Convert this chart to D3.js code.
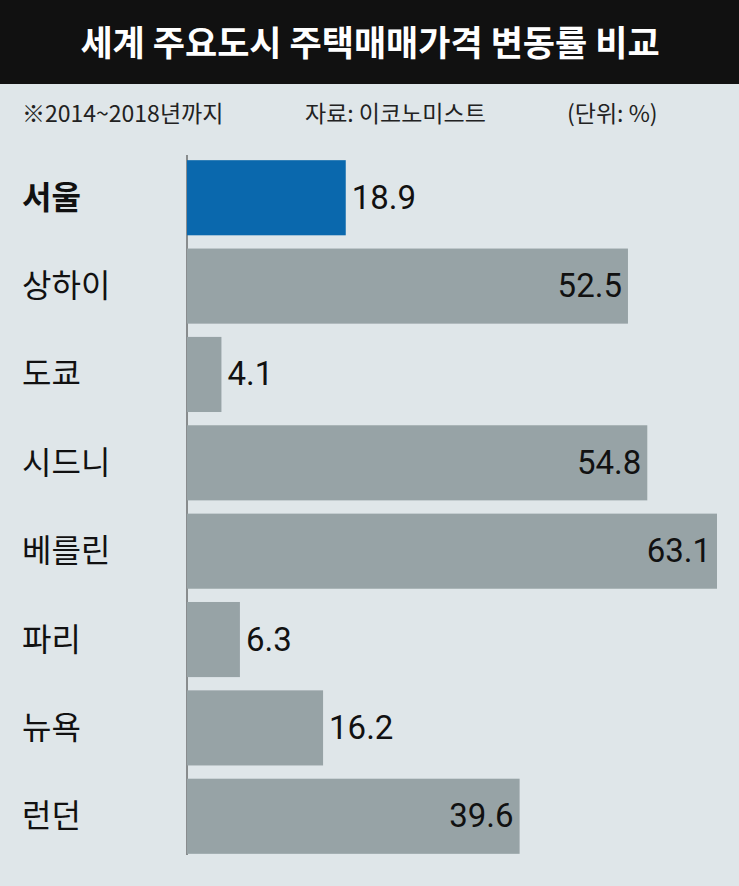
<!DOCTYPE html>
<html><head><meta charset="utf-8">
<script src="https://cdn.jsdelivr.net/npm/d3@7"></script>
<style>body{margin:0;background:#dfe6e9}</style>
</head><body><svg id="c" width="739" height="886"></svg>
<script>
const cities = ['서울','상하이','도쿄','시드니','베를린','파리','뉴욕','런던'];
const values = [18.9, 52.5, 4.1, 54.8, 63.1, 6.3, 16.2, 39.6];
const notes = ['※2014~2018년까지', '자료: 이코노미스트', '(단위: %)'];

const svg = d3.select('#c');
const font = '"Noto Sans CJK KR", sans-serif';
svg.append('rect').attr('width',739).attr('height',886).attr('fill','#dfe6e9');
svg.append('rect').attr('width',739).attr('height',84).attr('fill','#111');
svg.append('text').attr('x',370).attr('y',56).attr('text-anchor','middle')
  .attr('fill','#fff').attr('font-family',font).attr('font-weight','bold')
  .attr('font-size',35).text('세계 주요도시 주택매매가격 변동률 비교');

// subtitle pieces
const noteX = [22, 305, 567];
svg.selectAll('text.note').data(notes).join('text').attr('class','note')
  .attr('x',(d,i)=>noteX[i]).attr('y',122).attr('fill','#222')
  .attr('font-family',font).attr('font-size',23).text(d=>d);

const x = d3.scaleLinear().domain([0, 63.1]).range([187, 717]);
const y = d3.scaleBand().domain(cities).range([154, 860]).paddingInner(0.15).paddingOuter(0.07);

svg.append('line').attr('x1',187).attr('x2',187).attr('y1',155).attr('y2',855)
  .attr('stroke','#333').attr('stroke-width',1);

const g = svg.selectAll('g.bar').data(cities).join('g');
g.append('rect').attr('x',x(0)).attr('y',d=>y(d))
  .attr('width',(d,i)=>x(values[i])-x(0)).attr('height',y.bandwidth())
  .attr('fill',(d,i)=>i===0?'#0a68ad':'#97a3a6');
g.append('text').attr('x',22).attr('y',d=>y(d)+y.bandwidth()/2+11)
  .attr('font-family',font).attr('font-size',32).attr('fill','#111')
  .attr('font-weight',(d,i)=>i===0?'bold':'normal').text(d=>d);
g.append('text')
  .attr('x',(d,i)=>values[i]>30 ? x(values[i])-6 : x(values[i])+6)
  .attr('text-anchor',(d,i)=>values[i]>30?'end':'start')
  .attr('y',d=>y(d)+y.bandwidth()/2+11)
  .attr('font-family','"Liberation Sans Narrow", "Roboto", sans-serif').attr('font-size',33).attr('fill','#111')
  .text((d,i)=>values[i].toFixed(1));
</script></body></html>
